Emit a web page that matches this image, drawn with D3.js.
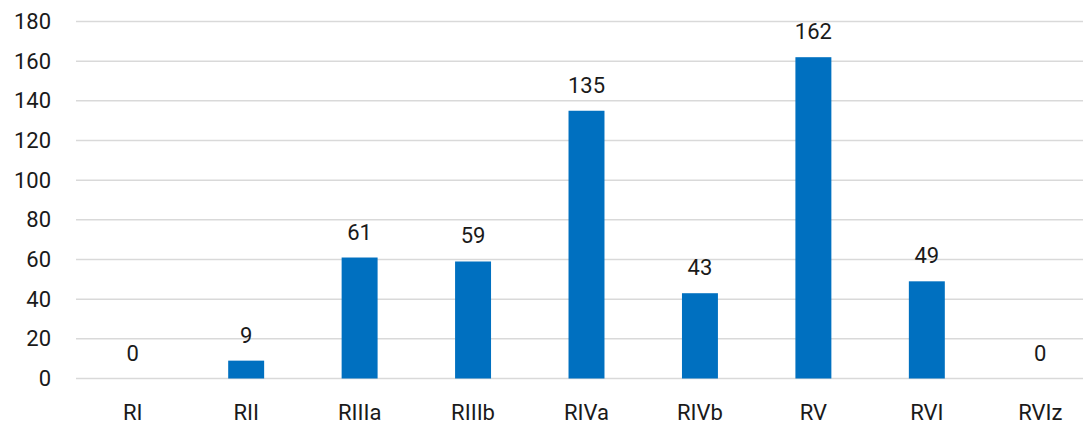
<!DOCTYPE html>
<html>
<head>
<meta charset="utf-8">
<script src="https://cdn.jsdelivr.net/npm/d3@7"></script>
<style>
  body { margin: 0; background: #fff; }
  text { font-family: Roboto, "Liberation Sans", sans-serif; fill: #1a1a1a; }
</style>
</head>
<body>
<svg id="chart" width="1083" height="423"></svg>
<script>
// data
let categories = ["RI", "RII", "RIIIa", "RIIIb", "RIVa", "RIVb", "RV", "RVI", "RVIz"];
let values = [0, 9, 61, 59, 135, 43, 162, 49, 0];
let y_ticks = [0, 20, 40, 60, 80, 100, 120, 140, 160, 180];

// colors
let color_bar = "#0070c0";
let color_grid = "#d9d9d9";

let width = 1083;
let height = 423;
let font_size = 22;
let plot = {left: 76, right: 1097, top: 21.5, bottom: 378.5};

let svg = d3.select("#chart");

let x = d3.scaleBand()
    .domain(categories)
    .range([plot.left, plot.right])
    .paddingInner(0.683)
    .paddingOuter(0.3415);

let y = d3.scaleLinear()
    .domain([0, 180])
    .range([plot.bottom, plot.top]);

// gridlines
svg.append("g")
    .selectAll("line")
    .data(y_ticks)
    .join("line")
    .attr("x1", plot.left)
    .attr("x2", width)
    .attr("y1", d => y(d))
    .attr("y2", d => y(d))
    .style("stroke", color_grid)
    .style("stroke-width", 1.5);

// y axis labels
let yAxis = d3.axisLeft(y).tickValues(y_ticks).tickSize(0).tickPadding(0);
let gy = svg.append("g")
    .attr("transform", "translate(51,0)")
    .call(yAxis);
gy.select(".domain").remove();
gy.selectAll("text")
    .attr("font-size", font_size)
    .style("font-family", "Roboto, 'Liberation Sans', sans-serif")
    .style("fill", "#1a1a1a");

// x axis labels
let xAxis = d3.axisBottom(x).tickSize(0).tickPadding(0);
let gx = svg.append("g")
    .attr("transform", "translate(0," + (plot.bottom + 26) + ")")
    .call(xAxis);
gx.select(".domain").remove();
gx.selectAll("text")
    .attr("font-size", font_size)
    .style("font-family", "Roboto, 'Liberation Sans', sans-serif")
    .style("fill", "#1a1a1a");

// bars
svg.append("g")
    .selectAll("rect")
    .data(values)
    .join("rect")
    .attr("x", (d, i) => x(categories[i]))
    .attr("y", d => y(d))
    .attr("width", x.bandwidth())
    .attr("height", d => y(0) - y(d))
    .style("fill", color_bar);

// data labels
svg.append("g")
    .selectAll("text")
    .data(values)
    .join("text")
    .attr("x", (d, i) => x(categories[i]) + x.bandwidth() / 2)
    .attr("y", d => y(d) - 18)
    .attr("text-anchor", "middle")
    .attr("font-size", font_size)
    .text(d => d);
</script>
</body>
</html>
